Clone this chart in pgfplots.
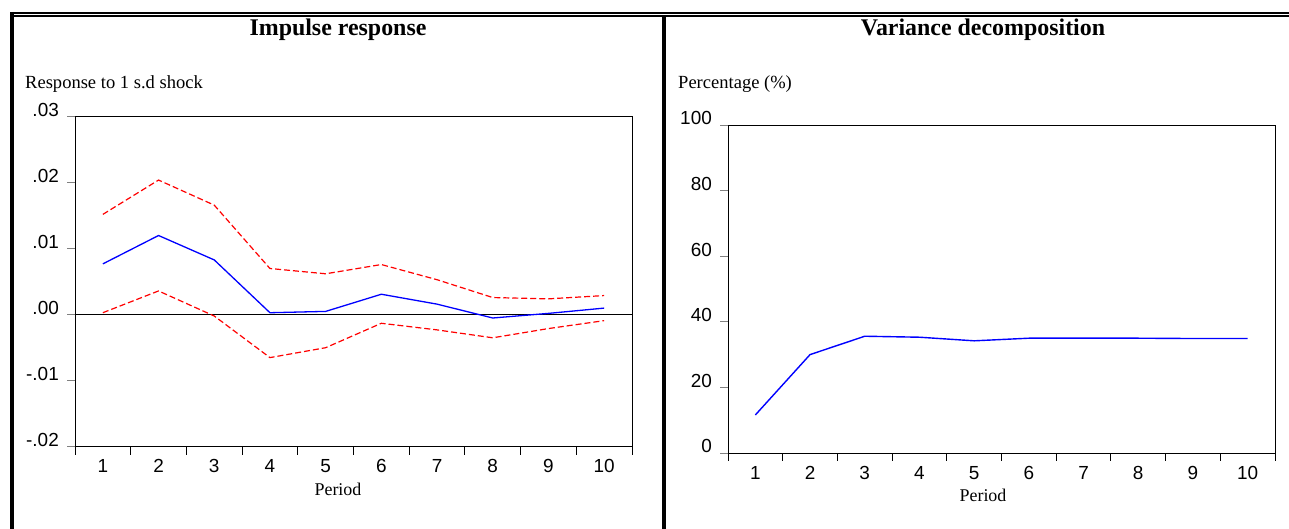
\documentclass[border=0pt]{standalone}
\usepackage{fontspec}
\setmainfont{Liberation Serif}
\newfontfamily\arialfont{Liberation Sans}
\usepackage{pgfplots}
\usepackage{pgfplotstable}
\pgfplotsset{compat=1.18}

% impulse response with +/- 2 s.e. bands
\pgfplotstableread{
period resp    upper   lower
1      0.0077  0.0152  0.0003
2      0.0120  0.0204  0.0036
3      0.0083  0.0166  -0.0002
4      0.0003  0.0070  -0.0065
5      0.0005  0.0062  -0.0050
6      0.0031  0.0076  -0.0013
7      0.0016  0.0053  -0.0023
8      -0.0005 0.0026  -0.0035
9      0.0002  0.0024  -0.0021
10     0.0010  0.0029  -0.0009
}\irf

% variance decomposition
\pgfplotstableread{
period share
1      11.6
2      30.0
3      35.6
4      35.3
5      34.2
6      35.0
7      35.0
8      35.0
9      34.9
10     34.9
}\vdc

\pgfplotsset{
  evstyle/.style={
    scale only axis,
    axis line style={black, line width=0.9bp},
    xmin=0.5, xmax=10.5,
    xtick={1,...,10},
    minor xtick={0.5,1.5,...,10.5},
    major x tick style={draw=none},
    minor x tick style={black, line width=0.9bp},
    minor tick length=8bp,
    major tick length=8bp,
    y tick style={gray, line width=0.9bp},
    tick align=outside,
    xtick pos=bottom, ytick pos=left,
    scaled y ticks=false,
    /pgf/number format/assume math mode=true,
    tick label style={font=\arialfont\fontsize{19}{19}\selectfont, inner sep=0pt},
    xticklabel style={anchor=base, yshift=-18bp},
    yticklabel style={anchor=base east, xshift=-8bp},
  },
}

\begin{document}
\begin{tikzpicture}
\useasboundingbox (0bp,0bp) rectangle (1289bp,529bp);
% panel frames
\draw[line width=2bp] (10bp,516bp) -- (1289bp,516bp);
\draw[line width=2bp] (10bp,513bp) -- (1289bp,513bp);
\draw[line width=4bp] (12bp,517bp) -- (12bp,0bp);
\draw[line width=4bp] (664bp,512bp) -- (664bp,0bp);

\node[anchor=base, inner sep=0pt, font=\bfseries\fontsize{24}{28}\selectfont] at (338bp,493.5bp) {Impulse response};
\node[anchor=base, inner sep=0pt, font=\bfseries\fontsize{24}{28}\selectfont] at (983bp,493.5bp) {Variance decomposition};
\node[anchor=base west, inner sep=0pt, font=\fontsize{18.6}{20}\selectfont] at (25bp,440.7bp) {Response to 1 s.d shock};
\node[anchor=base west, inner sep=0pt, font=\fontsize{18.6}{20}\selectfont] at (678bp,440.7bp) {Percentage (\%)};
\node[anchor=base, inner sep=0pt, font=\fontsize{18}{20}\selectfont] at (338bp,34bp) {Period};
\node[anchor=base, inner sep=0pt, font=\fontsize{18}{20}\selectfont] at (983bp,27.3bp) {Period};

\begin{axis}[evstyle,
  at={(75bp,82.3bp)}, anchor=south west,
  width=557bp, height=330bp,
  ymin=-0.02, ymax=0.03,
  ytick={-0.02,-0.01,0,0.01,0.02,0.03},
  yticklabels={-.02,-.01,.00,.01,.02,.03},
]
\addplot[black, line width=0.9bp, forget plot] coordinates {(0.5,0) (10.5,0)};
\addplot[red, line width=1.2bp, dash pattern=on 6bp off 3bp] table[x=period, y=upper] {\irf};
\addplot[red, line width=1.2bp, dash pattern=on 6bp off 3bp] table[x=period, y=lower] {\irf};
\addplot[blue, line width=1.3bp] table[x=period, y=resp] {\irf};
\end{axis}

\begin{axis}[evstyle,
  at={(728bp,76bp)}, anchor=south west,
  width=547bp, height=328bp,
  ymin=0, ymax=100,
  ytick={0,20,...,100},
]
\addplot[blue, line width=1.4bp] table[x=period, y=share] {\vdc};
\end{axis}
\end{tikzpicture}
\end{document}
